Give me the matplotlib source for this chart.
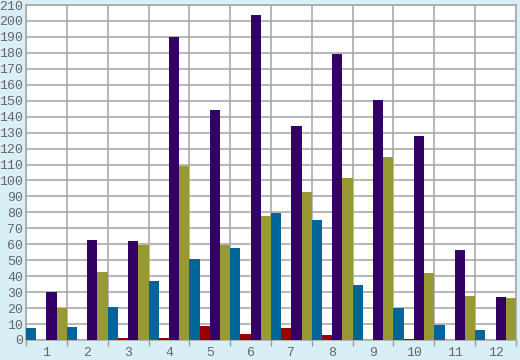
import matplotlib.pyplot as plt
import numpy as np

# data
months = ["1", "2", "3", "4", "5", "6", "7", "8", "9", "10", "11", "12"]
blue = [7.7, 8.3, 20.9, 37.2, 51, 57.9, 79.8, 75.4, 34.7, 20.2, 9.6, 6.5]
red = [0.3, 0.3, 1, 1, 8.8, 3.8, 7.5, 3.1, 0.3, 0.8, 0.3, 0.3]
purple = [30.3, 62.7, 62.2, 190, 144.3, 204, 134.3, 179.5, 150.6, 128.1, 56.6, 27.1]
olive = [20.2, 42.8, 59.7, 109.3, 59.7, 77.5, 93, 101.8, 114.9, 42.2, 27.8, 26.5]

series = [blue, red, purple, olive]
colors = ["#006699", "#990000", "#330066", "#999933"]

fig = plt.figure(figsize=(5.2, 3.6), dpi=100, facecolor="#d9eff6")
ax = fig.add_axes([26 / 520, 20 / 360, 490 / 520, 335 / 360])
ax.set_facecolor("white")

x = np.arange(1, len(months) + 1)
w = 0.25
for i, (vals, c) in enumerate(zip(series, colors)):
    ax.bar(x - 0.375 + i * w, vals, width=w, color=c, linewidth=0, zorder=3)

## axes
ax.set_xlim(0.5, 12.5)
ax.set_ylim(0, 210)
ax.set_yticks(range(0, 211, 10))
ax.set_xticks(x)
ax.set_xticklabels(months)
ax.set_xticks(np.arange(0.5, 12.6, 1), minor=True)

ax.tick_params(axis="x", which="major", length=0, pad=5)
ax.tick_params(axis="x", which="minor", length=4, color="#999999", width=1)
ax.tick_params(axis="y", length=0, pad=2)
for lab in ax.get_xticklabels() + ax.get_yticklabels():
    lab.set_family("Liberation Mono")
    lab.set_fontsize(9.5)
    lab.set_color("#666666")

## grid
ax.grid(axis="y", which="major", color="#aaaaaa", linewidth=1.2, zorder=1)
ax.grid(axis="x", which="minor", color="#aaaaaa", linewidth=1.2, zorder=1)
for s in ax.spines.values():
    s.set_color("#aaaaaa")
    s.set_linewidth(1.2)

plt.savefig("out.png", dpi=100, facecolor=fig.get_facecolor())
